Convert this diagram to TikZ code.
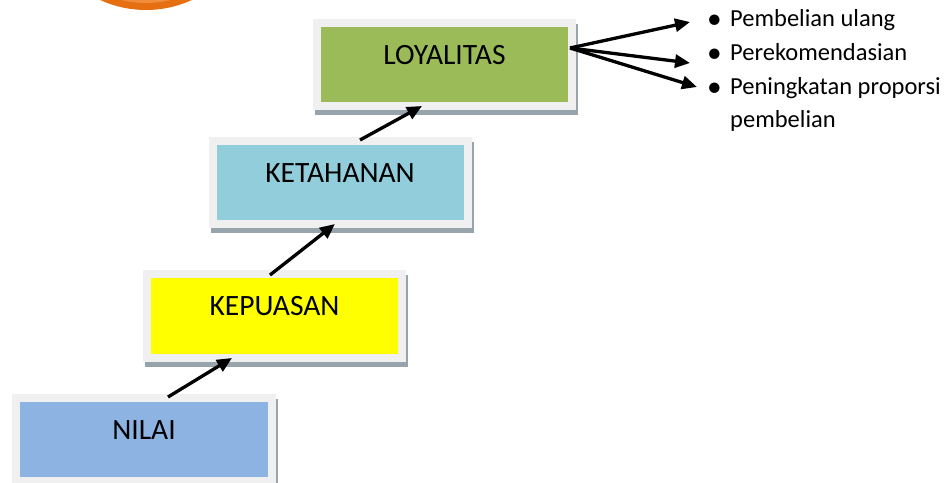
\documentclass[tikz,border=0pt]{standalone}
\usepackage{fontspec}
\setmainfont{Carlito}
\usetikzlibrary{arrows.meta,calc,shadows}
\definecolor{loyc}{HTML}{9BBB59}
\definecolor{ketc}{HTML}{92CDDC}
\definecolor{kepc}{HTML}{FFFF00}
\definecolor{nilc}{HTML}{8DB3E2}
\definecolor{framec}{HTML}{F0F0F1}
\definecolor{shadowc}{HTML}{98A4AC}
\definecolor{orangec}{HTML}{E66F12}
\definecolor{orangein}{HTML}{F08C3C}
\newcommand{\bul}{\makebox[24bp][l]{\hspace{1bp}\raisebox{-1.5bp}{\scalebox{1.2}{•}}}}
\tikzset{
  stepbox/.style={rectangle, minimum width=263bp, minimum height=91bp,
    inner sep=0pt, outer sep=0pt, fill=framec,
    drop shadow={shadow xshift=2bp, shadow yshift=-5bp, fill=shadowc, opacity=1},
    path picture={\fill[#1] ([shift={(8bp,8bp)}]path picture bounding box.south west)
      rectangle ([shift={(-8bp,-8bp)}]path picture bounding box.north east);},
    font=\fontsize{29.5bp}{31bp}\selectfont, text height=20bp, text depth=20bp},
  item/.style={inner sep=0pt, anchor=base west, font=\fontsize{24.5bp}{28bp}\selectfont},
  arr/.style={line width=3.3bp, -{Triangle[length=15bp,width=13bp]}}
}
\begin{document}
\begin{tikzpicture}[x=1bp,y=-1bp]
\useasboundingbox (0,0) rectangle (947,483);
\clip (0,0) rectangle (947,483);
% orange circle (partly visible)
\fill[orangec] (146,-100) circle (110);
\fill[orangein] (146,-100) circle (103);
% boxes
\node[stepbox=loyc] (loy) at (444.5,64.5) {LOYALITAS};
\node[stepbox=ketc] (ket) at (340,182.5) {KETAHANAN};
\node[stepbox=kepc] (kep) at (274.5,316) {KEPUASAN};
\node[stepbox=nilc] (nil) at (144,439.5) {NILAI};
% arrows between boxes
\draw[arr] ($(nil.north west)+(155.5,3)$) -- ($(kep.south west)+(89,-3.5)$);
\draw[arr] ($(kep.north west)+(127,4.5)$) -- ($(ket.south west)+(126.5,-4)$);
\draw[arr] ($(ket.north west)+(151.5,3)$) -- ($(loy.south west)+(109,-4)$);
% bullet list
\node[item] (b1) at (706,27) {\bul Pembelian ulang};
\node[item] (b2) at (706,61) {\bul Perekomendasian};
\node[item] (b3) at (706,95) {\bul Peningkatan proporsi};
\node[item] (b4) at (730,128) {pembelian};
% arrows to the list
\coordinate (fork) at ($(loy.east)+(-6,-16.5)$);
\draw[arr] (fork) -- ($(b1.base west)+(-16,-5)$);
\draw[arr] (fork) -- ($(b2.base west)+(-16,2)$);
\draw[arr] (fork) -- ($(b3.base west)+(-9,-8)$);
\end{tikzpicture}
\end{document}
